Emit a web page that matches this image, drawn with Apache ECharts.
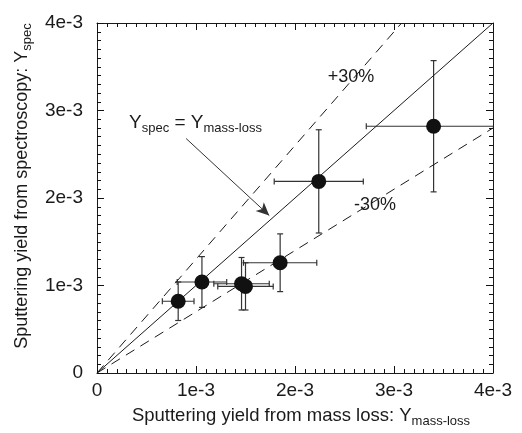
<!DOCTYPE html>
<html>
<head>
<meta charset="utf-8">
<script src="https://cdn.jsdelivr.net/npm/echarts@6/dist/echarts.min.js"></script>
<style>
  html, body { margin: 0; padding: 0; background: #fff; }
  #main { width: 522px; height: 433px; }
</style>
</head>
<body>
<div id="main"></div>
<script>
// values in units of 1e-3
const massLoss = [0.82, 1.06, 1.46, 1.50, 1.85, 2.24, 3.40];
const spec = [0.82, 1.04, 1.02, 0.99, 1.26, 2.19, 2.82];
const massLossErr = [0.16, 0.25, 0.28, 0.28, 0.37, 0.45, 0.68];
const specErr = [0.22, 0.29, 0.30, 0.27, 0.33, 0.59, 0.75];
const axisTicks = [0, 1, 2, 3, 4];
// reference lines y = k * x
const slopes = [1, 1.3, 0.7];

const FONT = 'Liberation Sans, Arial, Helvetica, sans-serif';
const INK = '#1a1a1a';
const axMax = axisTicks[axisTicks.length - 1];

function tickLabel(v) {
  return v === 0 ? '0' : v + 'e-3';
}

function refLine(k) {
  const xEnd = Math.min(axMax, axMax / k);
  return [[0, 0], [xEnd, k * xEnd]];
}

const points = massLoss.map((x, i) => [x, spec[i], massLossErr[i], specErr[i]]);

function subRich(size) {
  return {
    n: { fontSize: size, fontFamily: FONT, color: INK },
    s: { fontSize: 13, fontFamily: FONT, color: INK, padding: [12, 0, 0, 0] }
  };
}

function makeAxis(dim, pos, showLabel) {
  return {
    type: 'value',
    position: pos,
    min: 0,
    max: axMax,
    interval: 1,
    axisLine: { show: true, onZero: false, lineStyle: { color: INK, width: 1 } },
    axisTick: { show: true, inside: true, length: 7, lineStyle: { color: '#111', width: 1 } },
    minorTick: { show: true, splitNumber: 10, length: 4, lineStyle: { color: '#111', width: 1 } },
    splitLine: { show: false },
    minorSplitLine: { show: false },
    axisLabel: {
      show: showLabel,
      formatter: tickLabel,
      fontSize: 19,
      fontFamily: FONT,
      color: INK,
      margin: dim === 'x' ? 8 : 14
    }
  };
}

const xMain = makeAxis('x', 'bottom', true);
xMain.name = '{n|Sputtering yield from mass loss: Y}{s|mass-loss}';
xMain.nameLocation = 'middle';
xMain.nameGap = 30;
xMain.nameTextStyle = { rich: subRich(18.5), padding: [0, 0, 0, 12] };

const yMain = makeAxis('y', 'left', true);
yMain.name = '{n|Sputtering yield from spectroscopy: Y}{s|spec}';
yMain.nameLocation = 'middle';
yMain.nameGap = 55;
yMain.nameRotate = 90;
yMain.nameTextStyle = { rich: subRich(18), padding: [0, 0, 0, 24] };

const chart = echarts.init(document.getElementById('main'), null, { renderer: 'canvas' });

const option = {
  animation: false,
  backgroundColor: '#fff',
  grid: { left: 97, right: 29, top: 23, bottom: 60, outerBoundsMode: 'none', containLabel: false },
  xAxis: [xMain, makeAxis('x', 'top', false)],
  yAxis: [yMain, makeAxis('y', 'right', false)],
  graphic: [
    {
      type: 'text',
      left: 129,
      top: 113,
      style: {
        text: '{n|Y}{s|spec}{n| = Y}{s|mass-loss}',
        rich: {
          n: { fontSize: 19, fontFamily: FONT, fill: INK },
          s: { fontSize: 13, fontFamily: FONT, fill: INK, padding: [12, 0, 0, 0] }
        }
      }
    },
    {
      type: 'text',
      x: 351, y: 77,
      style: { text: '+30%', fontSize: 18, fontFamily: FONT, fill: INK, align: 'center', verticalAlign: 'middle' }
    },
    {
      type: 'text',
      x: 375, y: 205,
      style: { text: '-30%', fontSize: 18, fontFamily: FONT, fill: INK, align: 'center', verticalAlign: 'middle' }
    }
  ],
  series: [
    {
      type: 'line',
      data: refLine(slopes[0]),
      symbol: 'none',
      lineStyle: { color: INK, width: 1 },
      silent: true,
      markLine: {
        silent: true,
        symbol: ['none', 'arrow'],
        symbolSize: [9, 13],
        label: { show: false },
        lineStyle: { color: '#333', width: 1, type: 'solid' },
        data: [[{ coord: [0.90, 2.68] }, { coord: [1.74, 1.80] }]]
      }
    },
    {
      type: 'line',
      data: refLine(slopes[1]),
      symbol: 'none',
      lineStyle: { color: INK, width: 1, type: [10, 7] },
      silent: true
    },
    {
      type: 'line',
      data: refLine(slopes[2]),
      symbol: 'none',
      lineStyle: { color: INK, width: 1, type: [10, 7] },
      silent: true
    },
    {
      type: 'custom',
      clip: true,
      data: points,
      renderItem: function (params, api) {
        const x = api.value(0), y = api.value(1);
        const ex = api.value(2), ey = api.value(3);
        const l = api.coord([x - ex, y]);
        const r = api.coord([x + ex, y]);
        const t = api.coord([x, y + ey]);
        const b = api.coord([x, y - ey]);
        const c = 3;
        const st = { stroke: '#333', lineWidth: 1.2 };
        return {
          type: 'group',
          children: [
            { type: 'line', shape: { x1: l[0], y1: l[1], x2: r[0], y2: r[1] }, style: st },
            { type: 'line', shape: { x1: l[0], y1: l[1] - c, x2: l[0], y2: l[1] + c }, style: st },
            { type: 'line', shape: { x1: r[0], y1: r[1] - c, x2: r[0], y2: r[1] + c }, style: st },
            { type: 'line', shape: { x1: t[0], y1: t[1], x2: b[0], y2: b[1] }, style: st },
            { type: 'line', shape: { x1: t[0] - c, y1: t[1], x2: t[0] + c, y2: t[1] }, style: st },
            { type: 'line', shape: { x1: b[0] - c, y1: b[1], x2: b[0] + c, y2: b[1] }, style: st }
          ]
        };
      }
    },
    {
      type: 'scatter',
      data: points.map(p => [p[0], p[1]]),
      symbol: 'circle',
      symbolSize: 15,
      itemStyle: { color: '#111', opacity: 1 },
      z: 5
    }
  ]
};

chart.setOption(option);
</script>
</body>
</html>
